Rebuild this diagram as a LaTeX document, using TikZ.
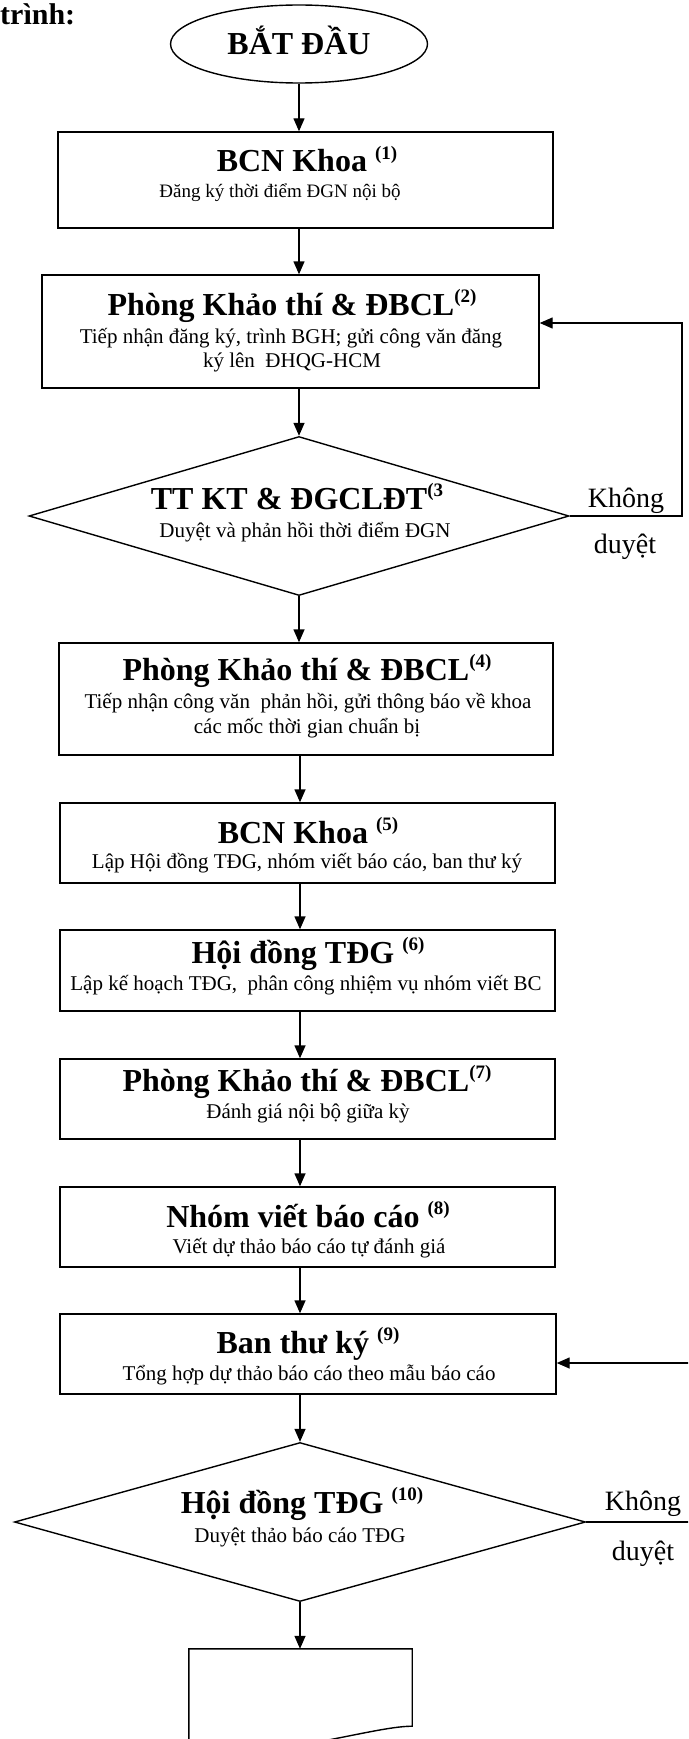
\documentclass[tikz,border=0pt]{standalone}
\usepackage{fontspec}
\setmainfont{Liberation Serif}
\usetikzlibrary{shapes.geometric,arrows.meta}
\newcommand{\supnum}[1]{\raisebox{13pt}{\fontsize{19}{19}\selectfont #1}}
\tikzset{
  box/.style={draw, line width=1.4pt, inner sep=0pt, minimum width=495pt},
  decide/.style={draw, diamond, line width=1.4pt, inner sep=0pt},
  ttl/.style={anchor=base, inner sep=0pt, font=\fontsize{32}{36}\selectfont\bfseries},
  sub/.style={anchor=base, inner sep=0pt, font=\fontsize{21}{25}\selectfont},
  lbl/.style={anchor=base, inner sep=0pt, font=\fontsize{28}{32}\selectfont},
  arr/.style={line width=1.4pt, -{Triangle[length=13pt,width=11pt]}},
}
\begin{document}
\begin{tikzpicture}[x=1pt,y=-1pt]
\useasboundingbox (0,0) rectangle (688,1739);
\clip (0,0) rectangle (688,1739);
\fill[white] (0,0) rectangle (688,1739);
\node[anchor=base west, inner sep=0pt, font=\fontsize{30}{34}\selectfont\bfseries] (cap) at (0,25) {trình:};
\node[draw, ellipse, line width=1.4pt, minimum width=257pt, minimum height=78pt, inner sep=0pt,
      text height=21pt, text depth=0pt, font=\fontsize{32}{36}\selectfont\bfseries] (st) at (299,44) {BẮT ĐẦU};
% boxes
\node[box, minimum height=96pt] (b1) at (305.5,180) {};
\node[box, minimum width=497pt, minimum height=113pt] (b2) at (290.5,331.5) {};
\node[decide, minimum width=540pt, minimum height=159pt] (d1) at (299,516) {};
\node[box, minimum width=494pt, minimum height=112pt] (b4) at (306,699) {};
\node[box, minimum height=80pt] (b5) at (307.5,843) {};
\node[box, minimum height=81pt] (b6) at (307.5,970.5) {};
\node[box, minimum height=80pt] (b7) at (307.5,1099) {};
\node[box, minimum height=80pt] (b8) at (307.5,1227) {};
\node[box, minimum width=496pt, minimum height=80pt] (b9) at (308,1354) {};
\node[decide, minimum width=571pt, minimum height=159pt] (d2) at (300,1522) {};
\node[minimum width=223pt, minimum height=96pt, inner sep=0pt] (b11) at (300.5,1697) {};
\draw[line width=1.4pt] (b11.south west) -- (b11.north west) -- (b11.north east)
  -- ([yshift=19pt]b11.south east) .. controls (370,1726) and (260,1765) .. (b11.south west);
% texts
\node[ttl] (t1) at (307,172) {BCN Khoa \supnum{(1)}};
\node[sub, font=\fontsize{19}{23}\selectfont] (s1) at (280,197) {Đăng ký thời điểm ĐGN nội bộ};
\node[ttl] (t2) at (292,315) {Phòng Khảo thí \& ĐBCL\supnum{(2)}};
\node[sub] (s2a) at (291,343) {Tiếp nhận đăng ký, trình BGH; gửi công văn đăng};
\node[sub] (s2b) at (292,367) {ký lên \ ĐHQG-HCM};
\node[ttl] (t3) at (297,509) {TT KT \& ĐGCLĐT\supnum{(3}};
\node[sub] (s3) at (305,537) {Duyệt và phản hồi thời điểm ĐGN};
\node[ttl] (t4) at (307,680) {Phòng Khảo thí \& ĐBCL\supnum{(4)}};
\node[sub] (s4a) at (308,708) {Tiếp nhận công văn \ phản hồi, gửi thông báo về khoa};
\node[sub] (s4b) at (307,733) {các mốc thời gian chuẩn bị};
\node[ttl] (t5) at (308,843) {BCN Khoa \supnum{(5)}};
\node[sub] (s5) at (307,868) {Lập Hội đồng TĐG, nhóm viết báo cáo, ban thư ký};
\node[ttl] (t6) at (308,963) {Hội đồng TĐG \supnum{(6)}};
\node[sub] (s6) at (306,990) {Lập kế hoạch TĐG, \ phân công nhiệm vụ nhóm viết BC};
\node[ttl] (t7) at (307,1091) {Phòng Khảo thí \& ĐBCL\supnum{(7)}};
\node[sub] (s7) at (308,1118) {Đánh giá nội bộ giữa kỳ};
\node[ttl] (t8) at (308,1227) {Nhóm viết báo cáo \supnum{(8)}};
\node[sub] (s8) at (309,1253) {Viết dự thảo báo cáo tự đánh giá};
\node[ttl] (t9) at (308,1353) {Ban thư ký \supnum{(9)}};
\node[sub] (s9) at (309,1380) {Tổng hợp dự thảo báo cáo theo mẫu báo cáo};
\node[ttl] (t10) at (302,1513) {Hội đồng TĐG \supnum{(10)}};
\node[sub] (s10) at (300,1542) {Duyệt thảo báo cáo TĐG};
\node[lbl] (n3a) at (626,507) {Không};
\node[lbl] (n3b) at (625,553) {duyệt};
\node[lbl] (n10a) at (643,1510) {Không};
\node[lbl] (n10b) at (643,1560) {duyệt};
% arrows
\draw[arr] (st) -- (st |- b1.north);
\draw[arr] (st |- b1.south) -- (st |- b2.north);
\draw[arr] (st |- b2.south) -- (d1.north);
\draw[arr] (d1.south) -- (d1.south |- b4.north);
\foreach \a/\b in {b4/b5,b5/b6,b6/b7,b7/b8,b8/b9}
  \draw[arr] (d2.north |- \a.south) -- (d2.north |- \b.north);
\draw[arr] (d2.north |- b9.south) -- (d2.north);
\draw[arr] (d2.south) -- (d2.south |- b11.north);
% return loops
\coordinate (r1) at (682,323);
\draw[arr] (d1.east) -| (r1) -- (r1 -| b2.east);
\coordinate (r2) at (700,1363);
\draw[arr] (d2.east) -| (r2) -- (r2 -| b9.east);
\end{tikzpicture}
\end{document}
